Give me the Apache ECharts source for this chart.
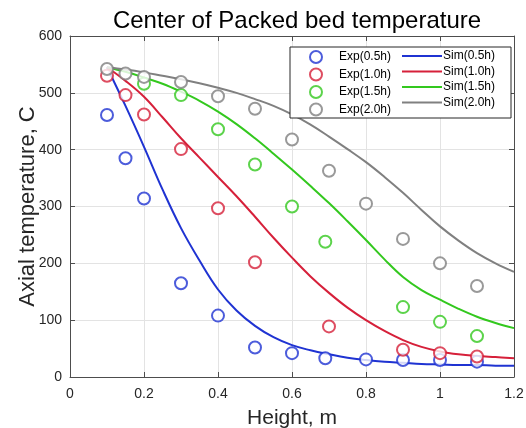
<!DOCTYPE html>
<html>
<head>
<meta charset="utf-8">
<script src="https://cdn.jsdelivr.net/npm/echarts@6/dist/echarts.min.js"></script>
<style>
  html, body { margin: 0; padding: 0; background: #fff; }
  #chart { width: 526px; height: 428px; }
</style>
</head>
<body>
<div id="chart"></div>
<script>
// experimental points (x in m, y in C)
var exp05X = [0.1, 0.15, 0.2, 0.3, 0.4, 0.5, 0.6, 0.69, 0.8, 0.9, 1.0, 1.1];
var exp05Y = [461, 385, 314, 165, 108, 52, 42, 33, 31, 30, 30, 27];
var exp10X = [0.1, 0.15, 0.2, 0.3, 0.4, 0.5, 0.7, 0.9, 1.0, 1.1];
var exp10Y = [530, 496, 462, 401, 297, 202, 89, 48, 42, 36];
var exp15X = [0.2, 0.3, 0.4, 0.5, 0.6, 0.69, 0.9, 1.0, 1.1];
var exp15Y = [516, 496, 436, 374, 300, 238, 123, 97, 72];
var exp20X = [0.1, 0.15, 0.2, 0.3, 0.4, 0.5, 0.6, 0.7, 0.8, 0.9, 1.0, 1.1];
var exp20Y = [542, 534, 528, 519, 494, 472, 418, 363, 305, 243, 200, 160];

// simulated curves
var simX = [0.1, 0.15, 0.2, 0.25, 0.3, 0.35, 0.4, 0.45, 0.5, 0.55, 0.6, 0.65,
            0.7, 0.75, 0.8, 0.85, 0.9, 0.95, 1.0, 1.05, 1.1, 1.15, 1.2];
var sim05 = [545, 477, 405, 330, 262, 205, 154, 117, 90, 70, 56, 47,
             40, 34, 30, 27, 25, 23, 22, 21, 21, 20, 20];
var sim10 = [545, 521, 493, 457, 420, 386, 352, 318, 282, 245, 210, 177,
             148, 122, 100, 81, 65, 53, 45, 40, 37, 35, 33];
var sim15 = [545, 537, 527, 516, 502, 486, 467, 445, 420, 393, 365, 336,
             306, 274, 241, 207, 176, 153, 136, 120, 106, 95, 86];
var sim20 = [545, 541, 536, 530, 524, 517, 509, 500, 489, 477, 462, 444,
             423, 401, 378, 352, 324, 294, 265, 240, 218, 200, 185];

var xTicks = [0, 0.2, 0.4, 0.6, 0.8, 1, 1.2];
var expNames = ['Exp(0.5h)', 'Exp(1.0h)', 'Exp(1.5h)', 'Exp(2.0h)'];
var simNames = ['Sim(0.5h)', 'Sim(1.0h)', 'Sim(1.5h)', 'Sim(2.0h)'];
var colors = ['#1f33d2', '#d6203a', '#33c81e', '#808080'];

function zip(xs, ys) {
    return xs.map(function (x, i) { return [x, ys[i]]; });
}

var expData = [zip(exp05X, exp05Y), zip(exp10X, exp10Y), zip(exp15X, exp15Y), zip(exp20X, exp20Y)];
var simData = [zip(simX, sim05), zip(simX, sim10), zip(simX, sim15), zip(simX, sim20)];

var font = 'Liberation Sans';
var axisColor = '#4d4d4d';

var series = [];
simData.forEach(function (d, i) {
    series.push({
        name: simNames[i],
        type: 'line',
        data: d,
        smooth: 0.4,
        showSymbol: false,
        symbol: 'none',
        lineStyle: { color: colors[i], width: 2 },
        itemStyle: { color: colors[i] },
        z: 2
    });
});
expData.forEach(function (d, i) {
    series.push({
        name: expNames[i],
        type: 'scatter',
        data: d,
        symbol: 'emptyCircle',
        symbolSize: 12,
        itemStyle: { color: colors[i], borderColor: colors[i], borderWidth: 1.3 },
        z: 3
    });
});

var myChart = echarts.init(document.getElementById('chart'));

var option = {
    backgroundColor: '#fff',
    animation: false,
    textStyle: { fontFamily: font },
    title: {
        text: 'Center of Packed bed temperature',
        left: 292,
        top: 4,
        textAlign: 'center',
        textStyle: { fontFamily: font, fontSize: 24, fontWeight: 'normal', color: '#000' }
    },
    grid: {
        left: 70, right: 12, top: 36, bottom: 51,
        outerBoundsMode: 'none',
        containLabel: false,
        show: false
    },
    legend: [{
        data: expNames,
        orient: 'vertical',
        left: 304, top: 45,
        itemWidth: 12, itemHeight: 12,
        itemGap: 3.5,
        icon: 'emptyCircle',
        z: 20,
        textStyle: { fontFamily: font, fontSize: 12, color: '#000', padding: [0, 0, 0, 12] }
    }, {
        data: simNames,
        orient: 'vertical',
        left: 397, top: 45,
        itemWidth: 40, itemHeight: 2,
        itemGap: 3.5,
        icon: 'rect',
        z: 20,
        textStyle: { fontFamily: font, fontSize: 12, color: '#000', padding: [0, 0, 0, -4] }
    }],
    graphic: [{
        type: 'rect',
        z: 10,
        shape: { x: 290, y: 47, width: 221, height: 71 },
        style: { fill: '#fff', stroke: '#262626', lineWidth: 1 }
    }],
    xAxis: [{
        type: 'value',
        min: 0, max: 1.2, interval: 0.2,
        name: 'Height, m',
        nameLocation: 'middle',
        nameGap: 31,
        nameTextStyle: { fontFamily: font, fontSize: 21, color: '#262626' },
        axisLine: { show: true, onZero: false, lineStyle: { color: axisColor } },
        axisTick: { show: true, inside: true, length: 5, lineStyle: { color: axisColor } },
        axisLabel: {
            fontFamily: font, fontSize: 14, color: '#262626', margin: 10,
            formatter: function (v) {
                var t = xTicks.filter(function (k) { return Math.abs(k - v) < 1e-6; });
                return t.length ? String(t[0]) : '';
            }
        },
        splitLine: { show: true, lineStyle: { color: '#e3e3e3' } }
    }, {
        type: 'value',
        position: 'top',
        min: 0, max: 1.2, interval: 0.2,
        axisLine: { show: true, onZero: false, lineStyle: { color: axisColor } },
        axisTick: { show: true, inside: true, length: 5, lineStyle: { color: axisColor } },
        axisLabel: { show: false },
        splitLine: { show: false }
    }],
    yAxis: [{
        type: 'value',
        min: 0, max: 600, interval: 100,
        name: 'Axial temperature, C',
        nameLocation: 'middle',
        nameGap: 31,
        nameMoveOverlap: false,
        nameTextStyle: { fontFamily: font, fontSize: 22, color: '#262626' },
        axisLine: { show: true, onZero: false, lineStyle: { color: axisColor } },
        axisTick: { show: true, inside: true, length: 5, lineStyle: { color: axisColor } },
        axisLabel: { fontFamily: font, fontSize: 14, color: '#262626', margin: 8 },
        splitLine: { show: true, lineStyle: { color: '#e3e3e3' } }
    }, {
        type: 'value',
        position: 'right',
        min: 0, max: 600, interval: 100,
        axisLine: { show: true, onZero: false, lineStyle: { color: axisColor } },
        axisTick: { show: true, inside: true, length: 5, lineStyle: { color: axisColor } },
        axisLabel: { show: false },
        splitLine: { show: false }
    }],
    series: series
};

myChart.setOption(option);
</script>
</body>
</html>
